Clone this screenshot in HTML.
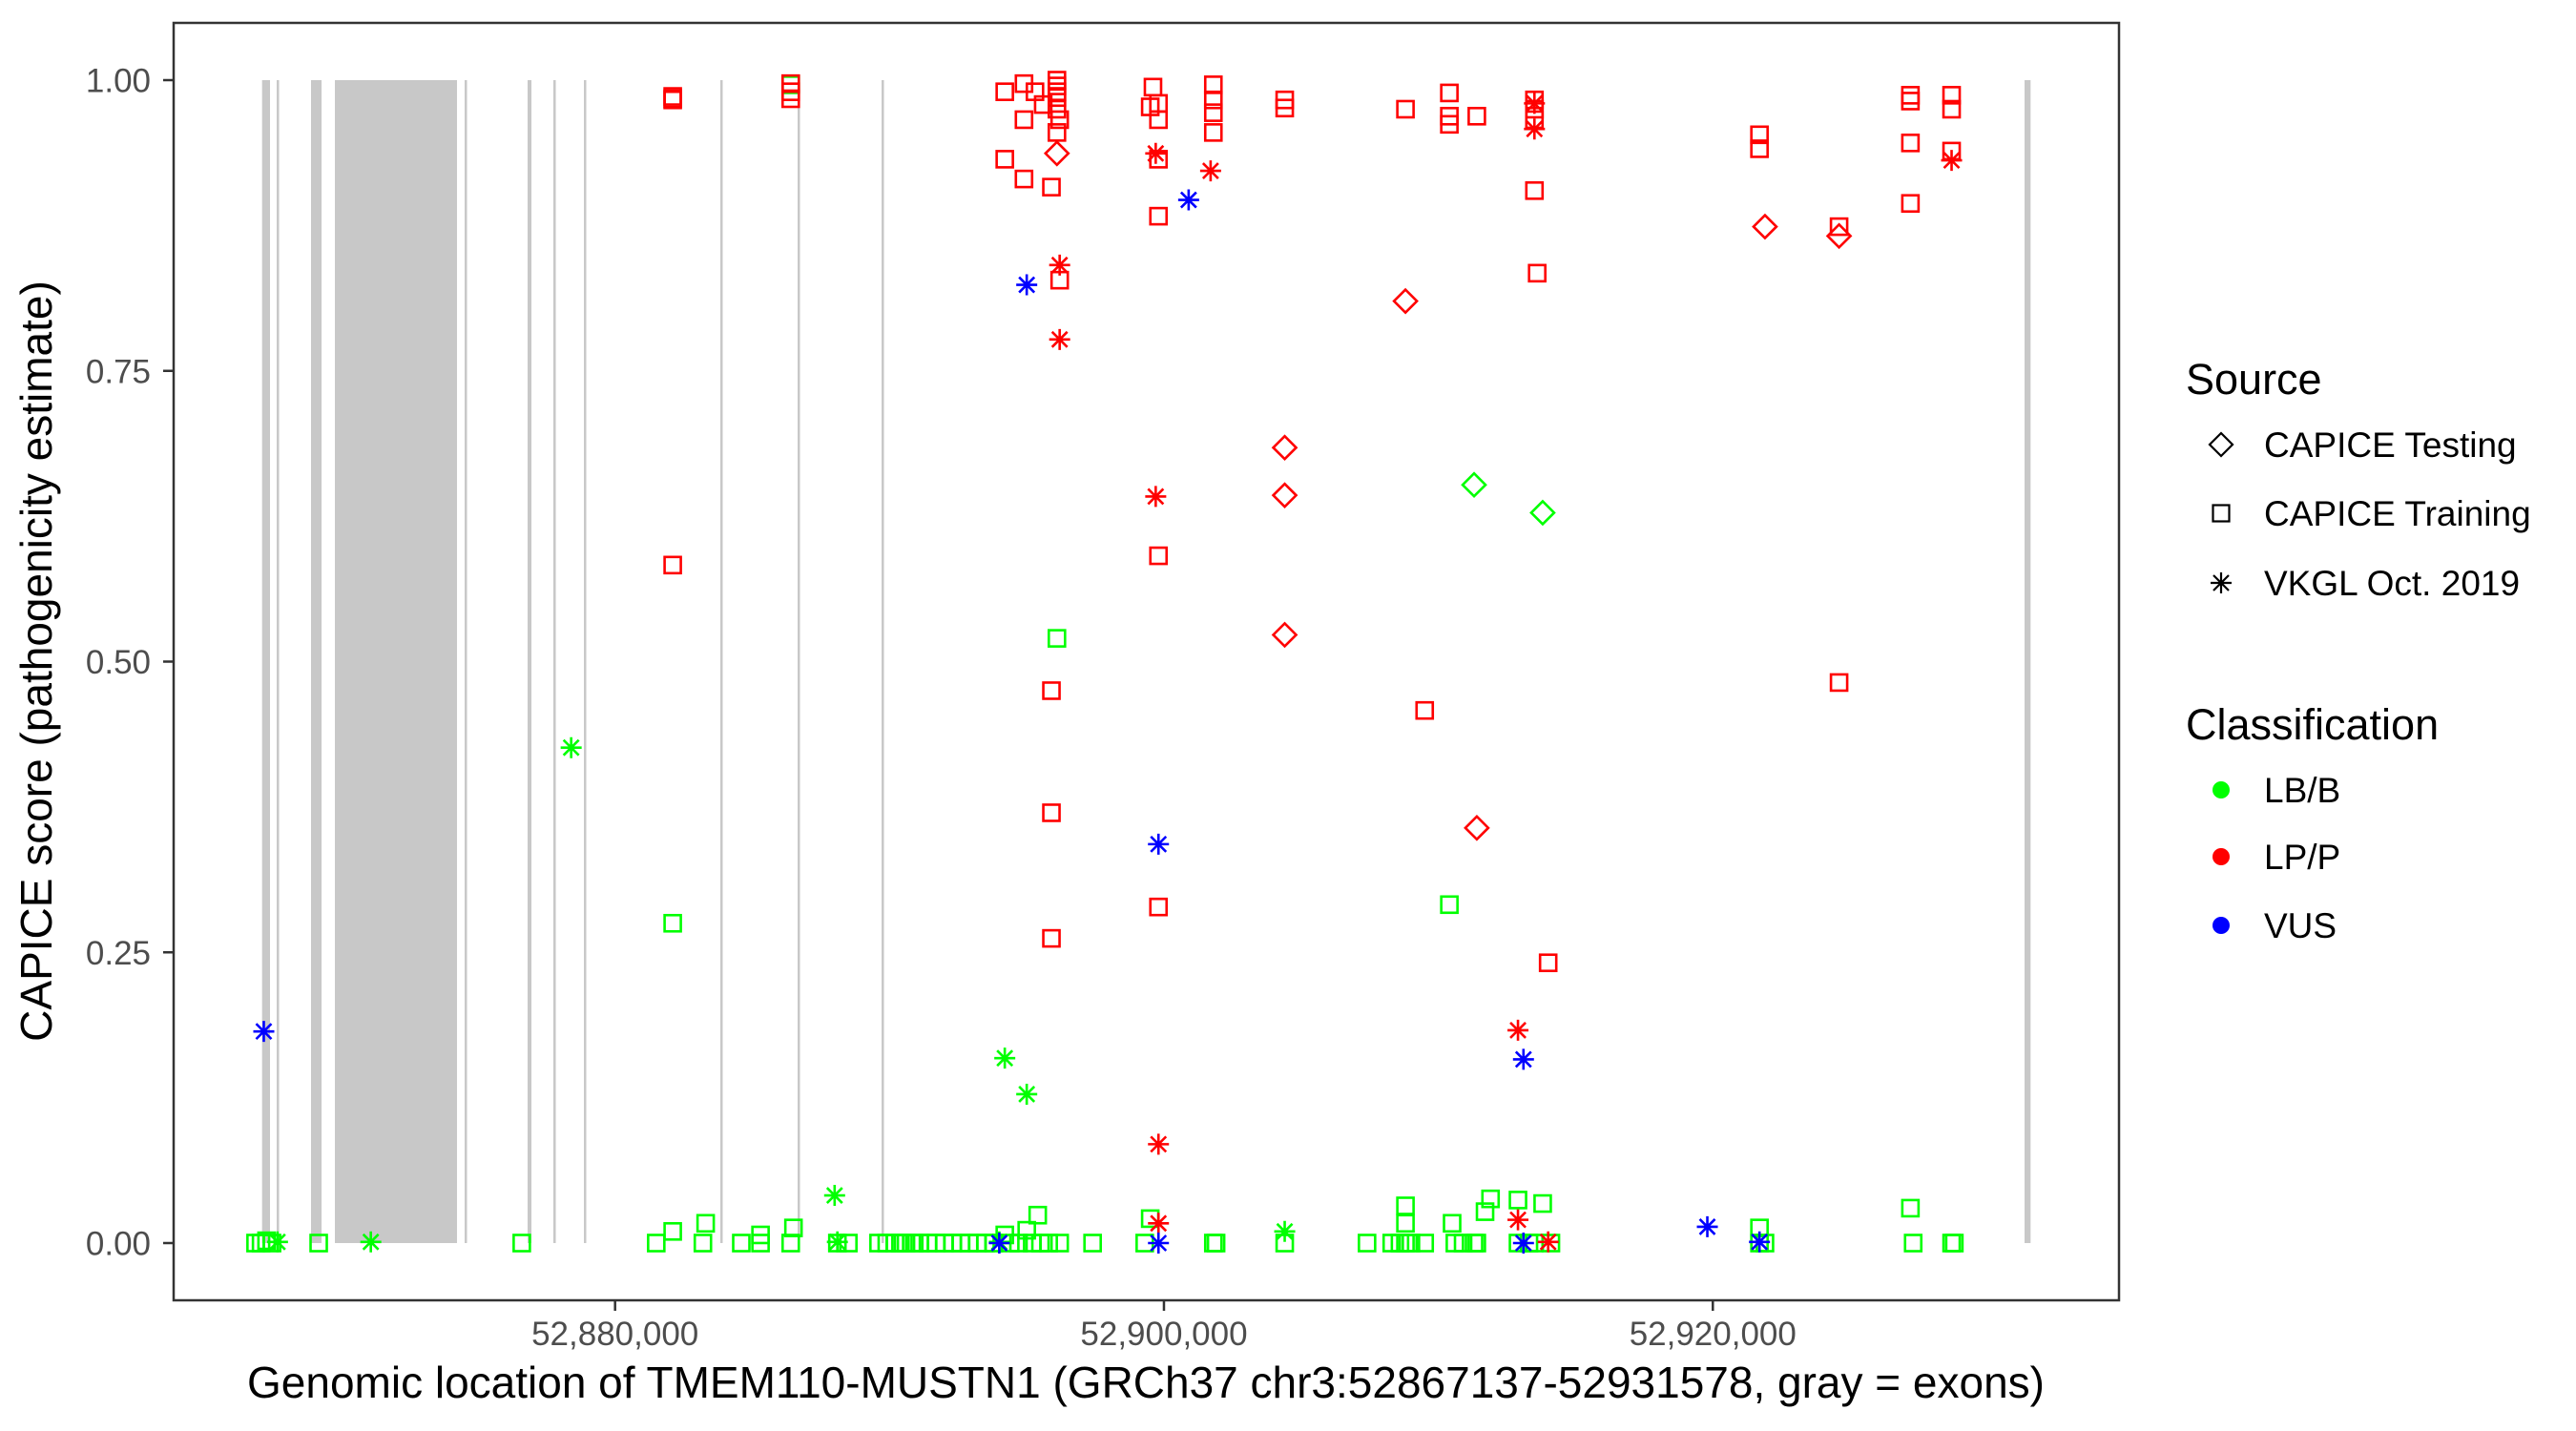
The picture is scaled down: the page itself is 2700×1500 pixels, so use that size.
<!DOCTYPE html>
<html><head><meta charset="utf-8"><style>
html,body{margin:0;padding:0;background:#fff;}
svg{display:block;font-family:"Liberation Sans",Arial,sans-serif;}
</style></head><body>
<svg id="chart" width="2700" height="1500" viewBox="0 0 2700 1500" xmlns="http://www.w3.org/2000/svg">
<rect x="0" y="0" width="2700" height="1500" fill="#fff"/>
<g id="exons"></g>
<g id="points"></g>
<rect x="182" y="24" width="2039" height="1339" fill="none" stroke="#333" stroke-width="2.5"/>
<g id="yaxis"></g>
<g id="xaxis"></g>
<text transform="translate(54,693) rotate(-90)" text-anchor="middle" font-size="46" fill="#000">CAPICE score (pathogenicity estimate)</text>
<text x="1201" y="1465" text-anchor="middle" font-size="46" fill="#000">Genomic location of TMEM110-MUSTN1 (GRCh37 chr3:52867137-52931578, gray = exons)</text>
<g id="legend">
<text x="2291" y="413" font-size="45" fill="#000">Source</text>
<text x="2291" y="775" font-size="45" fill="#000">Classification</text>
</g>
</svg>
<script>
const exonStarts = [52867137,52867670,52868921,52869790,52874518,52876813,52877752,52878864,52883835,52886651,52889711,52931359];
const exonEnds   = [52867426,52867739,52869304,52874240,52874588,52876952,52877786,52878934,52883904,52886720,52889760,52931578];
const xTicks = [52880000,52900000,52920000];
const xTickLabels = ["52,880,000","52,900,000","52,920,000"];
const yTicks = [0,0.25,0.5,0.75,1];
const yTickLabels = ["0.00","0.25","0.50","0.75","1.00"];

const trainRedPos = [52882.1,52882.1,52882.1,52886.4,52886.4,52886.4,52894.2,52894.2,52894.9,52894.9,52894.9,52895.3,52895.6,52895.9,52895.9,52895.9,52895.9,52896.1,52896.1,52896.1,52896.1,52896.1,52896.1,52896.2,52896.2,52899.5,52899.6,52899.8,52899.8,52899.8,52899.8,52899.8,52899.8,52901.8,52901.8,52901.8,52901.8,52904.4,52904.4,52908.8,52909.5,52910.4,52910.4,52910.4,52911.4,52913.5,52913.5,52913.5,52913.5,52913.6,52914.0,52921.7,52921.7,52924.6,52924.6,52927.2,52927.2,52927.2,52927.2,52928.7,52928.7,52928.7,52882.1];
const trainRedScore = [0.984,0.986,0.983,0.99,0.984,0.997,0.99,0.932,0.997,0.966,0.915,0.99,0.979,0.908,0.475,0.37,0.262,1.0,0.995,0.99,0.985,0.975,0.955,0.966,0.828,0.977,0.994,0.98,0.966,0.932,0.883,0.591,0.289,0.996,0.983,0.972,0.955,0.983,0.976,0.975,0.458,0.989,0.969,0.962,0.969,0.983,0.975,0.966,0.905,0.834,0.241,0.953,0.941,0.482,0.874,0.987,0.982,0.946,0.894,0.987,0.975,0.939,0.583];
const testRedPos = [52896.1,52908.8,52904.4,52904.4,52904.4,52911.4,52921.9,52924.6];
const testRedScore = [0.937,0.81,0.684,0.643,0.523,0.357,0.874,0.866];
const vkglRedPos = [52896.2,52896.2,52899.7,52899.7,52899.8,52901.7,52899.8,52913.5,52912.9,52912.9,52914.0,52928.7,52913.5];
const vkglRedScore = [0.841,0.777,0.937,0.642,0.085,0.922,0.017,0.958,0.183,0.02,0.001,0.931,0.98];
const vkglBluePos = [52867.2,52895.0,52900.9,52899.8,52913.1,52919.8,52899.8,52913.1,52921.7,52894.0];
const vkglBlueScore = [0.182,0.824,0.897,0.343,0.158,0.014,0.0,0.0,0.001,0.0];
const vkglGreenPos = [52878.4,52894.2,52895.0,52888.0,52867.7,52871.1,52894.0,52904.4,52888.1];
const vkglGreenScore = [0.426,0.159,0.128,0.041,0.001,0.001,0.001,0.01,0.001];
const testGreenPos = [52911.3,52913.8];
const testGreenScore = [0.652,0.628];
const trainGreenPos = [52886.4,52896.1,52882.1,52910.4,52882.1,52883.3,52885.3,52886.5,52895.4,52899.5,52908.8,52911.9,52912.9,52913.8,52927.2,52921.7,52910.5,52911.7,52908.8,52894.2,52895.0,
52866.9,52867.1,52867.3,52867.5,52869.2,52876.6,52881.5,52883.2,52884.6,52885.3,52886.4,52888.1,52888.5,52889.6,52889.9,52890.2,52890.4,52890.6,52890.9,52891.1,52891.4,52891.7,52892.0,52892.3,52892.6,52892.9,52893.2,52893.5,52893.8,52894.4,52894.7,52895.2,52895.5,52895.8,52896.2,52897.4,52899.3,52901.8,52901.9,52904.4,52907.4,52908.3,52908.6,52908.8,52909.0,52909.5,52910.6,52910.9,52911.3,52911.4,52912.9,52913.3,52913.5,52914.1,52921.7,52921.9,52927.3,52928.7,52928.8];
const trainGreenScore = [0.996,0.52,0.275,0.291,0.01,0.017,0.007,0.013,0.024,0.021,0.032,0.038,0.037,0.034,0.03,0.013,0.017,0.027,0.017,0.007,0.011,
0,0,0.002,0,0,0,0,0,0,0,0,0,0,0,0,0,0,0,0,0,0,0,0,0,0,0,0,0,0,0,0,0,0,0,0,0,0,0,0,0,0,0,0,0,0,0,0,0,0,0,0,0,0,0,0,0,0,0,0];

const X0 = 52863915, X1 = 52934800, PL = 182, PR = 2221;
const Y1px = 84, Y0px = 1303;
function sx(bp){ return PL + (bp - X0) / (X1 - X0) * (PR - PL); }
function sy(s){ return Y0px - s * (Y0px - Y1px); }
const NS = "http://www.w3.org/2000/svg";
function mk(tag, attrs, parent){ const e = document.createElementNS(NS, tag); for (const k in attrs) e.setAttribute(k, attrs[k]); parent.appendChild(e); return e; }

const exG = document.getElementById('exons');
for (let i = 0; i < exonStarts.length; i++) {
  const a = sx(exonStarts[i]), b = sx(exonEnds[i]);
  const r = mk('rect', {x:a, y:sy(1), width:Math.max(b-a,2.5), height:sy(0)-sy(1), fill:'#c8c8c8'}, exG);
  
  
}

const yG = document.getElementById('yaxis');
yTicks.forEach((t, i) => {
  const y = sy(t);
  const l = mk('line', {x1:171, x2:182, y1:y, y2:y, stroke:'#333', 'stroke-width':2.5}, yG);
  
  
  const tx = mk('text', {x:158, y:y+12.5, 'text-anchor':'end', 'font-size':35, fill:'#4d4d4d'}, yG);
  tx.textContent = yTickLabels[i];
  
  
});
const xG = document.getElementById('xaxis');
xTicks.forEach((t, i) => {
  const x = sx(t);
  const l = mk('line', {x1:x, x2:x, y1:1363, y2:1374, stroke:'#333', 'stroke-width':2.5}, xG);
  
  
  const tx = mk('text', {x:x, y:1410, 'text-anchor':'middle', 'font-size':35, fill:'#4d4d4d'}, xG);
  tx.textContent = xTickLabels[i];
  
  
});

function marker(shape, cx, cy, col, parent){
  let e;
  if (shape === 'square') {
    e = mk('rect', {x:cx-8.5, y:cy-8.5, width:17, height:17, fill:'none', stroke:col, 'stroke-width':2.6}, parent);
  } else if (shape === 'diamond') {
    e = mk('polygon', {points:`${cx},${cy-12} ${cx+12},${cy} ${cx},${cy+12} ${cx-12},${cy}`, fill:'none', stroke:col, 'stroke-width':2.6}, parent);
  } else if (shape === 'star') {
    const r = 11, d = 8;
    e = mk('path', {d:`M${cx},${cy-r}V${cy+r}M${cx-r},${cy}H${cx+r}M${cx-d},${cy-d}L${cx+d},${cy+d}M${cx-d},${cy+d}L${cx+d},${cy-d}`, fill:'none', stroke:col, 'stroke-width':2.6}, parent);
  } else {
    e = mk('circle', {cx:cx, cy:cy, r:9, fill:col}, parent);
  }
  return e;
}
const pG = document.getElementById('points');
function series(pos, score, shape, col, name){
  for (let i = 0; i < pos.length; i++) {
    const e = marker(shape, sx(pos[i]*1000), sy(score[i]), col, pG);
    
    
  }
}
series(trainGreenPos, trainGreenScore, 'square', '#00ff00', 'point-training-lbb');
series(testGreenPos, testGreenScore, 'diamond', '#00ff00', 'point-testing-lbb');
series(vkglGreenPos, vkglGreenScore, 'star', '#00ff00', 'point-vkgl-lbb');
series(trainRedPos, trainRedScore, 'square', '#ff0000', 'point-training-lpp');
series(testRedPos, testRedScore, 'diamond', '#ff0000', 'point-testing-lpp');
series(vkglRedPos, vkglRedScore, 'star', '#ff0000', 'point-vkgl-lpp');
series(vkglBluePos, vkglBlueScore, 'star', '#0000ff', 'point-vkgl-vus');

const lg = document.getElementById('legend');
const srcLabels = ["CAPICE Testing","CAPICE Training","VKGL Oct. 2019"];
const srcShapes = ["diamond","square","star"];
const srcY = [466, 538, 611];
srcLabels.forEach((s, i) => {
  const k = marker(srcShapes[i], 2328, srcY[i], '#000', lg);
  k.setAttribute('stroke-width', '2.2');
  
  
  const t = mk('text', {x:2373, y:srcY[i]+13, 'font-size':37, fill:'#000'}, lg);
  t.textContent = s;
  
  
});
const clsLabels = ["LB/B","LP/P","VUS"];
const clsColors = ["#00ff00","#ff0000","#0000ff"];
const clsY = [828, 898, 970];
clsLabels.forEach((s, i) => {
  const k = marker('dot', 2328, clsY[i], clsColors[i], lg);
  
  
  const t = mk('text', {x:2373, y:clsY[i]+13, 'font-size':37, fill:'#000'}, lg);
  t.textContent = s;
  
  
});
</script>
</body></html>
